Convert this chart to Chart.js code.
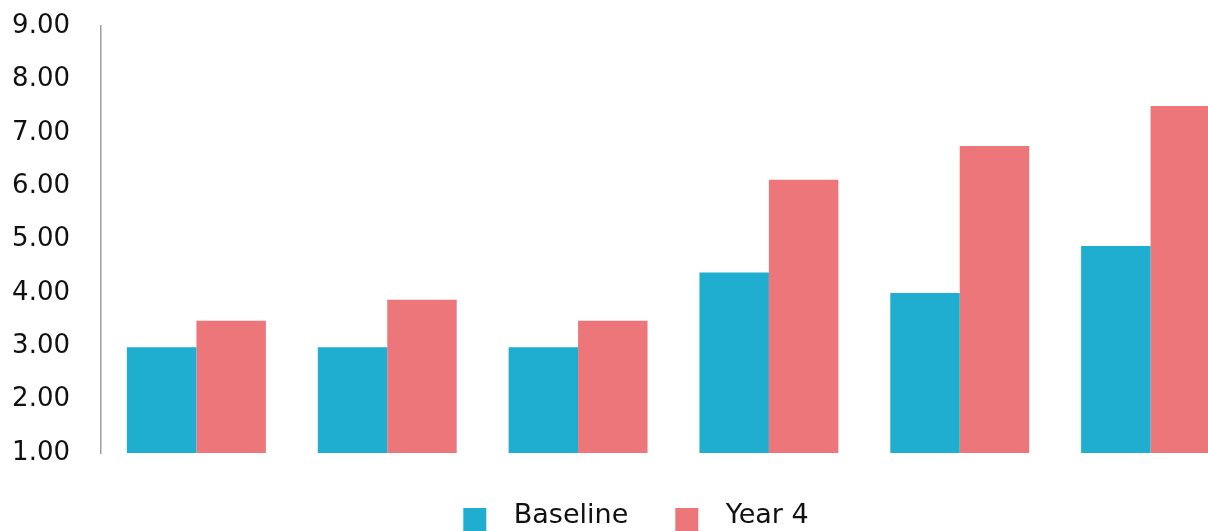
<!DOCTYPE html>
<html>
<head>
<meta charset="utf-8">
<script src="https://cdn.jsdelivr.net/npm/chart.js@4.4.1/dist/chart.umd.min.js"></script>
<style>
  html, body { margin: 0; padding: 0; background: #ffffff; overflow: hidden; width: 1208px; height: 531px; }
  #wrap { position: absolute; left: 0; top: 0; width: 1250px; height: 540px; }
</style>
</head>
<body>
<div id="wrap"><canvas id="c"></canvas></div>
<script>
const categories = ['Group 1', 'Group 2', 'Group 3', 'Group 4', 'Group 5', 'Group 6'];
const seriesNames = ['Baseline', 'Year 4'];
const baseline = [2.98, 2.98, 2.98, 4.38, 4.0, 4.88];
const year4 = [3.48, 3.87, 3.48, 6.12, 6.75, 7.5];
const yTicks = [1, 2, 3, 4, 5, 6, 7, 8, 9];
const colors = ['#20AED0', '#ED767B'];

function legendSwatch(color) {
  const cv = document.createElement('canvas');
  cv.width = 50; cv.height = 31;
  const g = cv.getContext('2d');
  g.fillStyle = color;
  g.fillRect(13, 8, 23, 23);
  return cv;
}
const swatches = colors.map(legendSwatch);

const FONT = "'DejaVu Sans', Verdana, sans-serif";

new Chart(document.getElementById('c'), {
  type: 'bar',
  data: {
    labels: categories,
    datasets: [
      { label: seriesNames[0], data: baseline, backgroundColor: colors[0], borderWidth: 0 },
      { label: seriesNames[1], data: year4, backgroundColor: colors[1], borderWidth: 0 }
    ]
  },
  options: {
    responsive: true,
    maintainAspectRatio: false,
    devicePixelRatio: 1,
    animation: false,
    layout: { padding: { left: 13, right: 4, top: 0, bottom: 1 } },
    datasets: { bar: { categoryPercentage: 0.728, barPercentage: 1.0 } },
    scales: {
      x: { display: false },
      y: {
        min: yTicks[0],
        max: yTicks[yTicks.length - 1],
        afterBuildTicks: (axis) => { axis.ticks = yTicks.map(v => ({ value: v })); },
        afterFit: (scale) => { scale.width = 88; scale.paddingTop = 26; scale.paddingBottom = 0; },
        grid: { display: false, drawTicks: false },
        border: { display: true, color: '#a0a0a0', width: 1.5 },
        ticks: {
          padding: 31,
          color: '#111111',
          font: { family: FONT, size: 26 },
          callback: (v) => Number(v).toFixed(2)
        }
      }
    },
    plugins: {
      tooltip: { enabled: false },
      legend: {
        position: 'bottom',
        title: { display: true, text: '', padding: 0, font: { size: 10, lineHeight: 1.5 } },
        labels: {
          usePointStyle: true,
          pointStyleWidth: 50,
          padding: 34,
          color: '#111111',
          font: { family: FONT, size: 27 },
          generateLabels: (chart) => {
            const items = Chart.defaults.plugins.legend.labels.generateLabels(chart);
            items.forEach((it, i) => { it.pointStyle = swatches[i]; it.lineWidth = 0; });
            return items;
          }
        }
      }
    }
  }
});
</script>
</body>
</html>
